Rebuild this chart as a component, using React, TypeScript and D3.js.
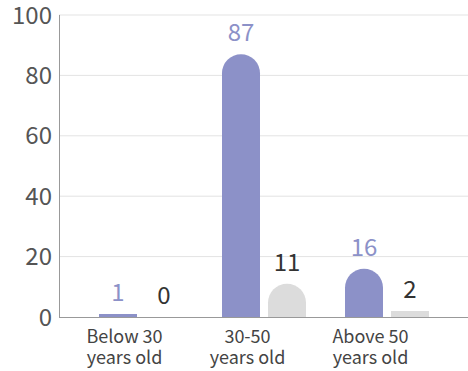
import React from "react";
import * as d3 from "d3";

const categories = ["Below 30|years old", "30-50|years old", "Above 50|years old"];
const seriesNames = ["A", "B"];
const seriesA = [1, 87, 16];
const seriesB = [0, 11, 2];
const yTicks = [0, 20, 40, 60, 80, 100];

const W = 468;
const H = 371;
const left = 59;
const right = 468;
const top = 15;
const bottom = 317;
const FONT = "'Noto Sans CJK SC', 'Noto Sans', sans-serif";
const colors = ["#8c91c8", "#dcdcdc"];
const labelColors = ["#8c91c8", "#333333"];

export default function App() {
  const y = d3.scaleLinear().domain([0, 100]).range([bottom, top]);
  const x = d3.scaleBand().domain(categories).range([63, 432]);
  const xs = d3
    .scaleBand()
    .domain(seriesNames)
    .range([0, 84])
    .paddingInner(8 / 46);
  const groupOffset = 36;
  const bw = xs.bandwidth();
  const r = bw / 2;
  const data = [seriesA, seriesB];

  const barPath = (x0: number, v: number) => {
    const yt = y(v);
    const h = bottom - yt;
    if (h < r) {
      return `M${x0},${bottom}V${yt}H${x0 + bw}V${bottom}Z`;
    }
    return `M${x0},${bottom}V${yt + r}A${r},${r} 0 0 1 ${x0 + bw},${yt + r}V${bottom}Z`;
  };

  return (
    <svg
      width={W}
      height={H}
      style={{ position: "absolute", left: 0, top: 0, background: "#fff" }}
      fontFamily={FONT}
    >
      {yTicks.map((t) => (
        <g key={t}>
          {t > 0 && (
            <line x1={left} x2={right} y1={y(t)} y2={y(t)} stroke="#e3e3e3" strokeWidth={1} />
          )}
          <text x={52} y={y(t) + 8.5} textAnchor="end" fontSize={24} fill="#555">
            {t}
          </text>
        </g>
      ))}
      <line x1={left + 0.5} x2={left + 0.5} y1={top} y2={bottom} stroke="#999" strokeWidth={1} />
      <line x1={left} x2={right} y1={bottom + 0.5} y2={bottom + 0.5} stroke="#999" strokeWidth={1} />
      {categories.map((c, i) => {
        const gx = (x(c) as number) + groupOffset;
        const cx = (x(c) as number) + x.bandwidth() / 2;
        const [l1, l2] = c.split("|");
        return (
          <g key={c}>
            {data.map((s, si) => {
              const bx = gx + (xs(seriesNames[si]) as number);
              const v = s[i];
              return (
                <g key={si}>
                  {v > 0 && <path d={barPath(bx, v)} fill={colors[si]} />}
                  <text
                    x={bx + bw / 2}
                    y={y(v) - 13}
                    textAnchor="middle"
                    fontSize={24}
                    fill={labelColors[si]}
                  >
                    {v}
                  </text>
                </g>
              );
            })}
            <text x={cx} y={343} textAnchor="middle" fontSize={18} fill="#444">
              {l1}
            </text>
            <text x={cx} y={364} textAnchor="middle" fontSize={18} fill="#444">
              {l2}
            </text>
          </g>
        );
      })}
    </svg>
  );
}
